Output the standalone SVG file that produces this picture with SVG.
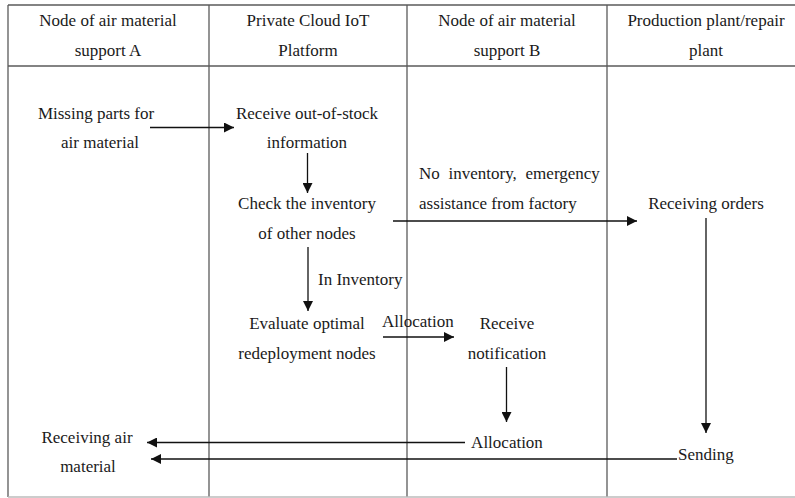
<svg xmlns="http://www.w3.org/2000/svg" width="795" height="498" viewBox="0 0 795 498">
<defs>
<style>
text{font-family:"Liberation Serif","Times New Roman",serif;font-size:17px;fill:#1a1a1a}
.m{text-anchor:middle}
.grid{stroke:#5a5a5a;stroke-width:1.3;fill:none}
.arr{stroke:#111;stroke-width:1.3;fill:none;marker-end:url(#ah)}
</style>
<marker id="ah" viewBox="0 0 10 10" refX="10" refY="5" markerWidth="11" markerHeight="10" markerUnits="userSpaceOnUse" orient="auto">
<path d="M0,0 L10,5 L0,10 z" fill="#111"/>
</marker>
</defs>
<rect width="795" height="498" fill="#fff"/>
<g id="table">
<line class="grid" x1="8" y1="5" x2="795" y2="5"/>
<line class="grid" x1="8" y1="66" x2="795" y2="66"/>
<line class="grid" x1="8" y1="5" x2="8" y2="497"/>
<line class="grid" x1="209" y1="5" x2="209" y2="497"/>
<line class="grid" x1="407" y1="5" x2="407" y2="497"/>
<line class="grid" x1="607" y1="5" x2="607" y2="497"/>
<line x1="8" y1="497" x2="795" y2="497" stroke="#bbb" stroke-width="1.3"/>
</g>
<g id="headers">
<text class="m" x="108" y="26">Node of air material</text>
<text class="m" x="108" y="56">support A</text>
<text class="m" x="308" y="26">Private Cloud IoT</text>
<text class="m" x="308" y="56">Platform</text>
<text class="m" x="507" y="26">Node of air material</text>
<text class="m" x="507" y="56">support B</text>
<text class="m" x="706" y="26">Production plant/repair</text>
<text class="m" x="706" y="56">plant</text>
</g>
<g id="connectors">
<line class="arr" x1="150" y1="127.5" x2="234" y2="127.5"/>
<line class="arr" x1="307.5" y1="153" x2="307.5" y2="193"/>
<line class="arr" x1="393" y1="221" x2="637" y2="221"/>
<line class="arr" x1="308" y1="247" x2="308" y2="311"/>
<line class="arr" x1="383" y1="337" x2="454" y2="337"/>
<line class="arr" x1="506.5" y1="367" x2="506.5" y2="422"/>
<line class="arr" x1="706" y1="218" x2="706" y2="433"/>
<line class="arr" x1="465" y1="442.5" x2="147" y2="442.5"/>
<line class="arr" x1="677" y1="459" x2="151" y2="459"/>
</g>
<g id="n-missing"><text class="m" x="96" y="119">Missing parts for</text><text class="m" x="100" y="148">air material</text></g>
<g id="n-receive-oos"><text class="m" x="307" y="119">Receive out-of-stock</text><text class="m" x="307" y="148">information</text></g>
<g id="n-check"><text class="m" x="307" y="209">Check the inventory</text><text class="m" x="307" y="239">of other nodes</text></g>
<g id="l-noinv"><text x="419" y="179" word-spacing="4.5">No inventory, emergency</text><text x="419" y="209">assistance from factory</text></g>
<g id="n-orders"><text class="m" x="706" y="209">Receiving orders</text></g>
<g id="l-ininv"><text x="318" y="285">In Inventory</text></g>
<g id="n-evaluate"><text class="m" x="307" y="329">Evaluate optimal</text><text class="m" x="307" y="359">redeployment nodes</text></g>
<g id="l-alloc1"><text x="382" y="327">Allocation</text></g>
<g id="n-notify"><text class="m" x="507" y="329">Receive</text><text class="m" x="507" y="359">notification</text></g>
<g id="n-alloc2"><text class="m" x="507" y="448">Allocation</text></g>
<g id="n-recv-air"><text class="m" x="87" y="443">Receiving air</text><text class="m" x="88" y="472">material</text></g>
<g id="n-sending"><text x="678" y="460">Sending</text></g>
</svg>
